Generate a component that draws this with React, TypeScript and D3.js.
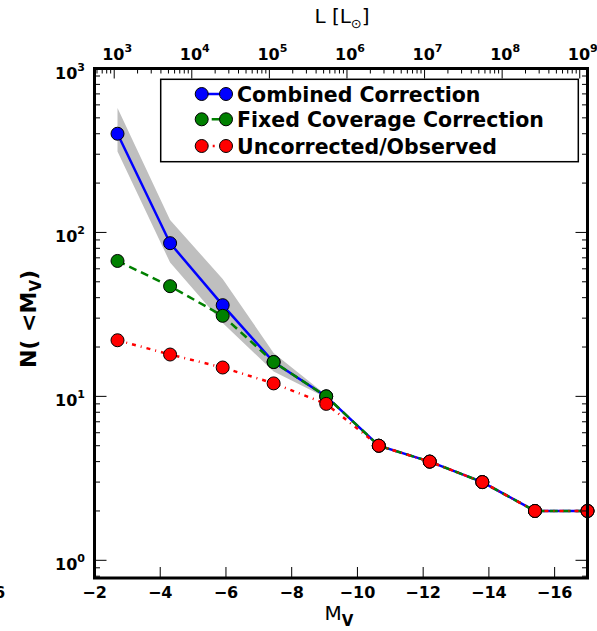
import React, { useEffect, useRef } from 'react';
import * as d3 from 'd3';

// absolute V magnitude bins
const magnitudes = [-2.7, -4.3, -5.9, -7.45, -9.05, -10.65, -12.2, -13.8, -15.4, -17.0];
// cumulative counts N(<M_V)
const combined = [400, 86, 36, 16.2, 10, 5, 4, 3, 2, 2];
const fixedCoverage = [67, 47, 31, 16.2, 10, 5, 4, 3, 2, 2];
const observed = [22, 18, 15, 12, 9, 5, 4, 3, 2, 2];
// uncertainty band of the combined correction
const bandUpper = [575, 119, 52, 18.4, 10.2, 5, 4, 3, 2, 2];
const bandLower = [312, 65.5, 28, 14.2, 9.8, 5, 4, 3, 2, 2];

const xTicks = [-2, -4, -6, -8, -10, -12, -14, -16];
const yTickExps = [0, 1, 2, 3];
const lumTickExps = [3, 4, 5, 6, 7, 8, 9];

const legendLabels = ['Combined Correction', 'Fixed Coverage Correction', 'Uncorrected/Observed'];

const FONT = '"DejaVu Sans", sans-serif';

const App = () => {
    const svgRef = useRef(null);

    useEffect(() => {
        const svg = d3.select(svgRef.current);
        svg.selectAll('*').remove();

        const left = 94.5, right = 587.5, top = 68.5, bottom = 578;

        const x = d3.scaleLinear().domain([-2, -17]).range([left, right]);
        const y = d3.scaleLog().domain([0.78, 1000]).range([bottom, top]);
        const xL = d3.scaleLog().domain([Math.pow(10, 2.746), Math.pow(10, 9.1)]).range([left, right]);

        // Uncertainty band
        const area = d3.area()
            .x((d, i) => x(magnitudes[i]))
            .y0((d, i) => y(bandLower[i]))
            .y1((d, i) => y(bandUpper[i]));
        svg.append('path')
            .datum(magnitudes)
            .attr('d', area)
            .style('fill', '#bfbfbf')
            .style('stroke', 'none');

        const series = [
            { values: combined, color: '#0000ff', dash: null },
            { values: fixedCoverage, color: '#008000', dash: '8,5' },
            { values: observed, color: '#ff0000', dash: '4,5,1,5' }
        ];

        const line = d3.line()
            .x((d, i) => x(magnitudes[i]))
            .y(d => y(d));

        series.forEach(s => {
            svg.append('path')
                .datum(s.values)
                .attr('d', line)
                .style('fill', 'none')
                .style('stroke', s.color)
                .style('stroke-width', 2.5)
                .style('stroke-dasharray', s.dash);
            svg.selectAll(null)
                .data(s.values)
                .enter()
                .append('circle')
                .attr('cx', (d, i) => x(magnitudes[i]))
                .attr('cy', d => y(d))
                .attr('r', 6.5)
                .style('fill', s.color)
                .style('stroke', '#000')
                .style('stroke-width', 1);
        });

        // Ticks
        const tickLine = (x1, y1, x2, y2) => svg.append('line')
            .attr('x1', x1).attr('y1', y1).attr('x2', x2).attr('y2', y2)
            .style('stroke', '#000').style('stroke-width', 1);

        xTicks.forEach(t => {
            tickLine(x(t), bottom, x(t), bottom - 11);
            svg.append('text')
                .attr('x', x(t))
                .attr('y', 598)
                .attr('text-anchor', 'middle')
                .style('font-family', FONT)
                .style('font-weight', 'bold')
                .style('font-size', '16px')
                .text('\u2212' + Math.abs(t));
        });

        const [y0, y1] = y.domain();
        for (let e = -1; e <= 3; e++) {
            for (let k = 1; k <= 9; k++) {
                const v = k * Math.pow(10, e);
                if (v < y0 || v > y1) continue;
                const len = k === 1 ? 12 : 5.5;
                tickLine(left, y(v), left + len, y(v));
                tickLine(right, y(v), right - len, y(v));
            }
        }

        const [l0, l1] = xL.domain();
        for (let e = 2; e <= 9; e++) {
            for (let k = 1; k <= 9; k++) {
                const v = k * Math.pow(10, e);
                if (v < l0 || v > l1) continue;
                const len = k === 1 ? 10 : 5;
                tickLine(xL(v), top, xL(v), top + len);
            }
        }

        const powLabel = (px, py, exp, anchor) => {
            const t = svg.append('text')
                .attr('x', px)
                .attr('y', py)
                .attr('text-anchor', anchor)
                .style('font-family', FONT)
                .style('font-weight', 'bold')
                .style('font-size', '16px');
            t.append('tspan').text('10');
            t.append('tspan')
                .attr('dy', -8)
                .style('font-size', '11px')
                .text(exp);
        };

        yTickExps.forEach(e => powLabel(85, y(Math.pow(10, e)) + 10, e, 'end'));
        lumTickExps.forEach(e => powLabel(xL(Math.pow(10, e)) + 3, 59.5, e, 'middle'));

        // Frame
        svg.append('rect')
            .attr('x', left).attr('y', top)
            .attr('width', right - left).attr('height', bottom - top)
            .style('fill', 'none')
            .style('stroke', '#000')
            .style('stroke-width', 3);

        // Axis titles
        const xt = svg.append('text')
            .attr('x', 339).attr('y', 620)
            .attr('text-anchor', 'middle')
            .style('font-family', FONT)
            .style('font-size', '20px');
        xt.append('tspan').text('M');
        xt.append('tspan').attr('dy', 6).style('font-size', '15px').style('font-weight', 'bold').text('V');

        const lt = svg.append('text')
            .attr('x', 342).attr('y', 23)
            .attr('text-anchor', 'middle')
            .style('font-family', FONT)
            .style('font-size', '20px');
        lt.append('tspan').text('L [L');
        lt.append('tspan').attr('dy', 5).style('font-size', '13px').text('\u2299');
        lt.append('tspan').attr('dy', -5).text(']');

        const yt = svg.append('text')
            .attr('transform', 'translate(36, 319) rotate(-90)')
            .attr('text-anchor', 'middle')
            .style('font-family', FONT)
            .style('font-weight', 'bold')
            .style('font-size', '22px');
        yt.append('tspan').text('N( <M');
        yt.append('tspan').attr('dy', 5).style('font-size', '15px').text('V');
        yt.append('tspan').attr('dy', -5).text(')');

        // cut-off label from neighbouring panel
        svg.append('text')
            .attr('x', -6).attr('y', 598)
            .style('font-family', FONT)
            .style('font-weight', 'bold')
            .style('font-size', '16px')
            .text('6');

        // Legend
        svg.append('rect')
            .attr('x', 160.7).attr('y', 79.3)
            .attr('width', 417.6).attr('height', 82.4)
            .style('fill', '#fff')
            .style('stroke', '#000')
            .style('stroke-width', 1.5);

        const rows = [94, 119.3, 146];
        series.forEach((s, i) => {
            svg.append('line')
                .attr('x1', 201.7).attr('x2', 226)
                .attr('y1', rows[i]).attr('y2', rows[i])
                .style('stroke', s.color)
                .style('stroke-width', 2.5)
                .style('stroke-dasharray', s.dash ? (i === 1 ? '0,10,8,5' : '0,11,2,20') : null);
            [201.7, 226].forEach(cx => {
                svg.append('circle')
                    .attr('cx', cx).attr('cy', rows[i]).attr('r', 6.5)
                    .style('fill', s.color)
                    .style('stroke', '#000')
                    .style('stroke-width', 1);
            });
            svg.append('text')
                .attr('x', 237)
                .attr('y', rows[i] + 8)
                .style('font-family', FONT)
                .style('font-weight', 'bold')
                .style('font-size', '20.5px')
                .text(legendLabels[i]);
        });
    }, []);

    return (
        <div style={{ position: 'absolute', left: 0, top: 0 }}>
            <svg ref={svgRef} width={597} height={631} style={{ display: 'block', background: '#fff' }}></svg>
        </div>
    );
};

export default App;
